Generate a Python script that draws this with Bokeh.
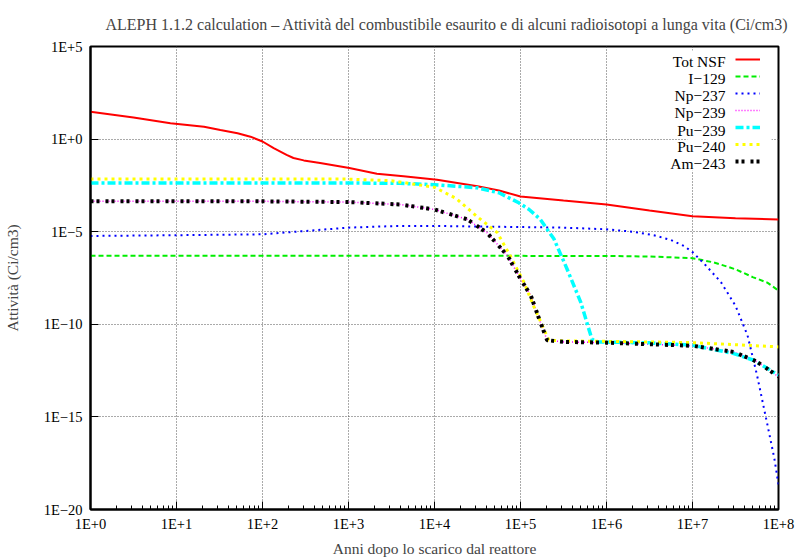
import numpy as np
from bokeh.plotting import figure
from bokeh.models import (Range1d, FixedTicker, CustomJSTickFormatter, Legend,
                          LegendItem, Label, BoxAnnotation)
from bokeh.embed import file_html
from bokeh.resources import INLINE

# ---- data: log10(years) and log10(activity Ci/cm3) ----
tot_lt = [0, 0.5, 0.93, 1.32, 1.51, 1.71, 1.86, 2.0, 2.13, 2.28, 2.36, 2.48, 2.67, 3.01, 3.33, 3.64, 4.03, 4.5, 4.75, 5.0, 5.5, 6.0, 6.5, 7.0, 7.5, 8.0]
tot_la = [1.48, 1.17, 0.85, 0.67, 0.49, 0.32, 0.13, -0.13, -0.49, -0.85, -1.02, -1.15, -1.29, -1.56, -1.87, -2.01, -2.19, -2.55, -2.78, -3.1, -3.32, -3.53, -3.85, -4.16, -4.28, -4.34]

i129_lt = [0, 2, 4, 6, 6.5, 7.0, 7.25, 7.5, 7.7, 7.87, 8.0]
i129_la = [-6.30, -6.30, -6.30, -6.31, -6.34, -6.43, -6.66, -7.03, -7.45, -7.75, -8.18]

np237_lt = [0, 1, 2, 2.5, 3, 3.5, 4, 5, 5.5, 6, 6.3, 6.55, 6.75, 6.9, 7.0, 7.15, 7.33, 7.5, 7.64, 7.75, 7.87, 7.95, 8.0]
np237_la = [-5.23, -5.19, -5.14, -4.96, -4.78, -4.70, -4.69, -4.75, -4.78, -4.87, -5.0, -5.19, -5.45, -5.77, -6.1, -6.8, -7.72, -9.0, -10.6, -12.74, -15.4, -17.2, -18.65]

am243_lt = [0, 1, 2, 3, 3.6, 4.0, 4.38, 4.61, 4.85, 5.0, 5.12, 5.23, 5.31, 5.5, 6.0, 7.0, 7.48, 7.75, 8.0]
am243_la = [-3.35, -3.35, -3.36, -3.40, -3.53, -3.80, -4.33, -5.05, -6.30, -7.55, -8.45, -9.88, -10.86, -10.95, -10.99, -11.16, -11.49, -12.02, -12.83]

np239_lt = [0, 1, 2, 3, 3.6, 4.0, 4.38, 4.61, 4.85, 5.0, 5.12, 5.23, 5.31, 5.5, 6.0, 7.0, 7.48, 7.75, 8.0]
np239_la = [-3.35, -3.35, -3.36, -3.40, -3.53, -3.80, -4.33, -5.05, -6.30, -7.55, -8.45, -9.88, -10.86, -10.95, -10.99, -11.16, -11.49, -12.02, -12.83]

pu239_lt = [0, 1, 2, 3, 3.6, 4.0, 4.5, 4.75, 4.98, 5.1, 5.23, 5.39, 5.54, 5.70, 5.83, 5.89, 6.0, 6.5, 7.0, 7.48, 7.71, 8.0]
pu239_la = [-2.37, -2.37, -2.37, -2.37, -2.39, -2.46, -2.63, -2.9, -3.44, -3.8, -4.33, -5.40, -7.0, -8.8, -10.8, -10.95, -10.96, -11.0, -11.13, -11.58, -11.94, -12.74]

pu240_lt = [0, 1, 2, 3, 3.5, 4.0, 4.25, 4.5, 4.73, 4.88, 5.04, 5.15, 5.27, 5.33, 5.5, 6.0, 7.0, 7.5, 8.0]
pu240_la = [-2.15, -2.15, -2.15, -2.16, -2.25, -2.6, -3.2, -4.2, -5.05, -6.3, -7.73, -8.99, -10.24, -10.86, -10.9, -10.92, -10.99, -11.1, -11.22]

names = ["Tot NSF", "I\u2212129", "Np\u2212237", "Np\u2212239", "Pu\u2212239", "Pu\u2212240", "Am\u2212243"]
x_decades = [0, 1, 2, 3, 4, 5, 6, 7, 8]
y_decades = [5, 0, -5, -10, -15, -20]

FONT = "Liberation Serif"

p = figure(width=795, height=559, x_axis_type="log", y_axis_type="log",
           x_range=Range1d(1, 1e8), y_range=Range1d(1e-20, 1e5),
           output_backend="svg", toolbar_location=None,
           min_border_left=90, min_border_right=17, min_border_top=46, min_border_bottom=47)

p.title.text = "ALEPH 1.1.2 calculation \u2013 Attivit\u00e0 del combustibile esaurito e di alcuni radioisotopi a lunga vita (Ci/cm3)"
p.title.text_font = FONT
p.title.text_font_size = "16px"
p.title.text_font_style = "normal"
p.title.align = "left"
p.title.offset = 15
p.title.standoff = 27

fmt = CustomJSTickFormatter(code="""
const e = Math.round(Math.log10(tick));
return "1E" + (e >= 0 ? "+" + e : "\u2212" + (-e));
""")

minor_x = [m * 10 ** d for d in x_decades[:-1] for m in range(2, 10)]
p.xaxis.ticker = FixedTicker(ticks=[10.0 ** d for d in x_decades], minor_ticks=minor_x)
p.yaxis.ticker = FixedTicker(ticks=[10.0 ** d for d in y_decades], minor_ticks=[])
for ax in (p.xaxis, p.yaxis):
    ax.formatter = fmt
    ax.major_label_text_font = FONT
    ax.major_label_text_font_size = "14.5px"
    ax.major_label_text_color = "black"
    ax.axis_label_text_font = FONT
    ax.axis_label_text_font_size = "15.5px"
    ax.axis_label_text_font_style = "normal"
    ax.axis_line_color = "black"
    ax.axis_line_width = 2
    ax.major_tick_out = 0
    ax.major_tick_in = 8
    ax.minor_tick_out = 0
    ax.minor_tick_in = 4
    ax.major_tick_line_color = "black"
    ax.minor_tick_line_color = "black"
p.xaxis.axis_label = "Anni dopo lo scarico dal reattore"
p.yaxis.axis_label = "Attivit\u00e0 (Ci/cm3)"
p.xaxis.major_label_standoff = 6
p.xaxis.axis_label_standoff = 5
p.yaxis.major_label_standoff = 8
p.yaxis.axis_label_standoff = 20

for g in (p.xgrid, p.ygrid):
    g.grid_line_color = "#555555"
    g.grid_line_dash = "1 2"
    g.grid_line_width = 1

p.outline_line_color = "black"
p.outline_line_width = 2
p.background_fill_color = "white"

# white patch behind the key (hides grid there)
p.add_layout(BoxAnnotation(left=10 ** 6.94, right=10 ** 7.92, top=10 ** 4.79, bottom=10 ** -1.71,
                           fill_color="white", fill_alpha=1, line_alpha=0, level="underlay"))

def pw(a):
    return np.power(10.0, np.array(a, dtype=float))

r_tot = p.line(pw(tot_lt), pw(tot_la), line_color="#ff0000", line_width=2)
r_i = p.line(pw(i129_lt), pw(i129_la), line_color="#00ee00", line_width=2, line_dash="5 3")
r_np7 = p.line(pw(np237_lt), pw(np237_la), line_color="#0000ff", line_width=2, line_dash="2 4")
r_np9 = p.line(pw(np239_lt), pw(np239_la), line_color="#ff00ff", line_width=1.5, line_dash="1 2")
r_pu9 = p.line(pw(pu239_lt), pw(pu239_la), line_color="#00ffff", line_width=3.5, line_dash="8 3 3 3")
r_pu0 = p.line(pw(pu240_lt), pw(pu240_la), line_color="#ffff00", line_width=3, line_dash="3 4")
r_am = p.line(pw(am243_lt), pw(am243_la), line_color="#000000", line_width=4, line_dash="3 3 3 6")

rends = [r_tot, r_i, r_np7, r_np9, r_pu9, r_pu0, r_am]
legend = Legend(items=[LegendItem(label=" ", renderers=[r]) for r in rends],
                location=(645, 341), glyph_width=25, glyph_height=14, label_height=14,
                label_width=0, label_standoff=0, spacing=3, padding=0, margin=0,
                label_text_font_size="8px", background_fill_alpha=0, border_line_alpha=0)
p.add_layout(legend)

key_y = [4.195, 3.28, 2.37, 1.46, 0.49, -0.42, -1.33]
for nm, ly in zip(names, key_y):
    p.add_layout(Label(x=10 ** 7.384, y=10 ** ly, text=nm, text_align="right", text_baseline="middle",
                       text_font=FONT, text_font_size="15.5px", text_color="black"))

open("out.html", "w").write(file_html(p, INLINE))
